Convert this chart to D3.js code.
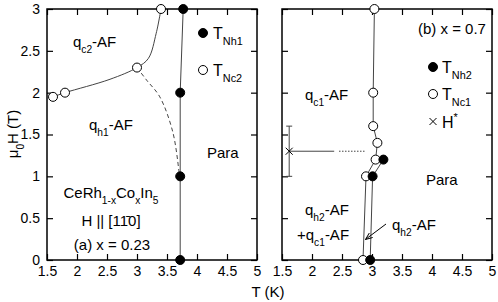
<!DOCTYPE html>
<html>
<head>
<meta charset="utf-8">
<script src="https://cdn.jsdelivr.net/npm/d3@7"></script>
<style>
  body { margin: 0; background: #fff; }
  svg text { font-family: "Liberation Sans", Arial, Helvetica, sans-serif; fill: #000; }
</style>
</head>
<body>
<svg id="chart" width="498" height="302"></svg>
<script>
// Tick values
const xTicks = [1.5, 2, 2.5, 3, 3.5, 4, 4.5, 5];
const yTicks = [0, 0.5, 1, 1.5, 2, 2.5, 3];

// (a) x = 0.23
const tNh1 = [[3.77, 3.0], [3.72, 2.0], [3.72, 1.0], [3.72, 0.0]];
const tNc2 = [[3.4, 3.0], [3.0, 2.3], [1.8, 2.0], [1.6, 1.95]];
// guide lines drawn through the points
const nc2Line = [[1.6, 1.95], [1.8, 2.0], [2.55, 2.16], [3.0, 2.3], [3.19, 2.41], [3.32, 2.71], [3.4, 3.0]];
const dashedLine = [[3.0, 2.3], [3.16, 2.15], [3.38, 1.95], [3.6, 1.52], [3.7, 1.05]];

// (b) x = 0.7
const tNh2 = [[2.97, 0.0], [3.01, 1.0], [3.19, 1.2]];
const tNc1 = [[2.85, 0.0], [2.9, 1.0], [3.06, 1.2], [3.09, 1.4], [3.02, 1.6], [3.02, 2.0], [3.04, 3.0]];
const hStar = { t: 1.62, h: 1.3, lo: 1.0, hi: 1.6 };
const hStarSolid = [1.62, 2.37];
const hStarDotted = [2.45, 2.88];

const svg = d3.select("#chart");
const y = d3.scaleLinear().domain([0, 3]).range([260, 9]);
const xa = d3.scaleLinear().domain([1.5, 5]).range([47, 257]);
const xb = d3.scaleLinear().domain([1.5, 5]).range([282, 492]);

// text with sub / superscripts: parts = [[text, kind], ...]
function rich(g, x, yy, parts, size, anchor) {
    const t = g.append("text")
        .attr("x", x).attr("y", yy)
        .attr("font-size", size)
        .attr("text-anchor", anchor || "start");
    let shift = 0;
    for (const [s, kind] of parts) {
        let want = 0;
        if (kind === "sub") want = size * 0.4;
        if (kind === "sup") want = -size * 0.45;
        t.append("tspan")
            .attr("dy", want - shift)
            .attr("font-size", kind ? size * 0.68 : size)
            .text(s);
        shift = want;
    }
    return t;
}

function panel(x, showYLabels) {
    const g = svg.append("g");
    const inner = -6;

    const bottom = g.append("g").attr("transform", "translate(0,260)")
        .call(d3.axisBottom(x).tickValues(xTicks).tickSize(inner).tickPadding(6)
            .tickFormat(d3.format("")));
    const top = g.append("g").attr("transform", "translate(0,9)")
        .call(d3.axisTop(x).tickValues(xTicks).tickSize(inner).tickFormat(""));
    const left = g.append("g").attr("transform", "translate(" + x.range()[0] + ",0)")
        .call(d3.axisLeft(y).tickValues(yTicks).tickSize(inner).tickPadding(7)
            .tickFormat(showYLabels ? d3.format("") : ""));
    const right = g.append("g").attr("transform", "translate(" + x.range()[1] + ",0)")
        .call(d3.axisRight(y).tickValues(yTicks).tickSize(inner).tickFormat(""));

    for (const a of [bottom, top, left, right]) {
        a.select(".domain").remove();
        a.selectAll("line").attr("stroke", "#000").attr("stroke-width", 1.2);
        a.selectAll("text").attr("font-size", 14)
            .style("font-family", "'Liberation Sans', Arial, sans-serif");
    }

    g.append("rect")
        .attr("x", x.range()[0]).attr("y", 9)
        .attr("width", x.range()[1] - x.range()[0]).attr("height", 251)
        .attr("fill", "none").attr("stroke", "#000").attr("stroke-width", 1.5);
    return g;
}

function drawLine(g, x, pts, curve, dash) {
    const line = d3.line().x(d => x(d[0])).y(d => y(d[1])).curve(curve || d3.curveLinear);
    g.append("path").datum(pts)
        .attr("d", line)
        .attr("fill", "none")
        .attr("stroke", "#444")
        .attr("stroke-width", 1)
        .attr("stroke-dasharray", dash || null);
}

function drawPoints(g, x, pts, filled) {
    g.selectAll(null).data(pts).enter().append("circle")
        .attr("cx", d => x(d[0])).attr("cy", d => y(d[1]))
        .attr("r", 4.5)
        .attr("fill", filled ? "#000" : "#fff")
        .attr("stroke", "#000").attr("stroke-width", 1);
}

// ---------- panel (a) ----------
const ga = panel(xa, true);
drawLine(ga, xa, nc2Line, d3.curveCatmullRom);
drawLine(ga, xa, dashedLine, d3.curveCatmullRom, "4,3");
drawLine(ga, xa, tNh1);
drawPoints(ga, xa, tNc2, false);
drawPoints(ga, xa, tNh1, true);

rich(ga, 73, 47, [["q", null], ["c2", "sub"], ["-AF", null]], 15);
rich(ga, 89, 130, [["q", null], ["h1", "sub"], ["-AF", null]], 15);
rich(ga, 207, 158, [["Para", null]], 15);
rich(ga, 111, 198, [["CeRh", null], ["1-x", "sub"], ["Co", null], ["x", "sub"], ["In", null], ["5", "sub"]], 15, "middle");
rich(ga, 111, 226, [["H || [11\u03040]", null]], 15, "middle");
rich(ga, 112, 250, [["(a) x = 0.23", null]], 15, "middle");

// legend (a)
ga.append("circle").attr("cx", 203).attr("cy", 33).attr("r", 4.5).attr("fill", "#000").attr("stroke", "#000");
rich(ga, 213, 39, [["T", null], ["Nh1", "sub"]], 16);
ga.append("circle").attr("cx", 203).attr("cy", 70).attr("r", 4.5).attr("fill", "#fff").attr("stroke", "#000");
rich(ga, 213, 76, [["T", null], ["Nc2", "sub"]], 16);

// ---------- panel (b) ----------
const gb = panel(xb, false);
drawLine(gb, xb, tNc1);
drawLine(gb, xb, tNh2);

// H* error bar and arrow line
const eb = gb.append("g").attr("stroke", "#444").attr("stroke-width", 1);
eb.append("line").attr("x1", xb(hStar.t)).attr("x2", xb(hStar.t)).attr("y1", y(hStar.lo)).attr("y2", y(hStar.hi));
eb.append("line").attr("x1", xb(hStar.t) - 3).attr("x2", xb(hStar.t) + 3).attr("y1", y(hStar.hi)).attr("y2", y(hStar.hi));
eb.append("line").attr("x1", xb(hStar.t) - 3).attr("x2", xb(hStar.t) + 3).attr("y1", y(hStar.lo)).attr("y2", y(hStar.lo));
eb.append("line").attr("x1", xb(hStarSolid[0])).attr("x2", xb(hStarSolid[1])).attr("y1", y(hStar.h)).attr("y2", y(hStar.h));
eb.append("line").attr("x1", xb(hStarDotted[0])).attr("x2", xb(hStarDotted[1])).attr("y1", y(hStar.h)).attr("y2", y(hStar.h))
    .attr("stroke-dasharray", "1.5,1.5");
const cx = xb(hStar.t), cy = y(hStar.h);
eb.append("path").attr("d", `M${cx - 3.5},${cy - 3.5}L${cx + 3.5},${cy + 3.5}M${cx - 3.5},${cy + 3.5}L${cx + 3.5},${cy - 3.5}`)
    .attr("stroke", "#000");

drawPoints(gb, xb, tNc1, false);
drawPoints(gb, xb, tNh2, true);

rich(gb, 418, 34, [["(b) x = 0.7", null]], 15);
rich(gb, 305, 100, [["q", null], ["c1", "sub"], ["-AF", null]], 15);
rich(gb, 426, 185, [["Para", null]], 15);
rich(gb, 305, 215, [["q", null], ["h2", "sub"], ["-AF", null]], 15);
rich(gb, 297, 240, [["+q", null], ["c1", "sub"], ["-AF", null]], 15);
rich(gb, 392, 230, [["q", null], ["h2", "sub"], ["-AF", null]], 15);

// arrow
const defs = svg.append("defs");
defs.append("marker").attr("id", "arr").attr("viewBox", "0 0 10 10")
    .attr("refX", 9).attr("refY", 5).attr("markerWidth", 7).attr("markerHeight", 7)
    .attr("orient", "auto")
    .append("path").attr("d", "M0,1L10,5L0,9").attr("fill", "none").attr("stroke", "#000").attr("stroke-width", 1.3);
gb.append("line").attr("x1", 386).attr("y1", 224).attr("x2", 366).attr("y2", 239)
    .attr("stroke", "#000").attr("stroke-width", 1).attr("marker-end", "url(#arr)");

// legend (b)
gb.append("circle").attr("cx", 433).attr("cy", 67).attr("r", 4.5).attr("fill", "#000").attr("stroke", "#000");
rich(gb, 442, 73, [["T", null], ["Nh2", "sub"]], 16);
gb.append("circle").attr("cx", 433).attr("cy", 94).attr("r", 4.5).attr("fill", "#fff").attr("stroke", "#000");
rich(gb, 442, 100, [["T", null], ["Nc1", "sub"]], 16);
gb.append("path").attr("d", "M429.5,118L436.5,125M429.5,125L436.5,118").attr("stroke", "#000").attr("stroke-width", 1);
rich(gb, 442, 128, [["H", null], ["*", "sup"]], 16);

// axis titles
rich(svg, 268, 297, [["T (K)", null]], 15, "middle");
rich(svg.append("g").attr("transform", "translate(18,134) rotate(-90)"), 0, 0,
    [["\u03bc", null], ["0", "sub"], ["H (T)", null]], 15, "middle");
</script>
</body>
</html>
